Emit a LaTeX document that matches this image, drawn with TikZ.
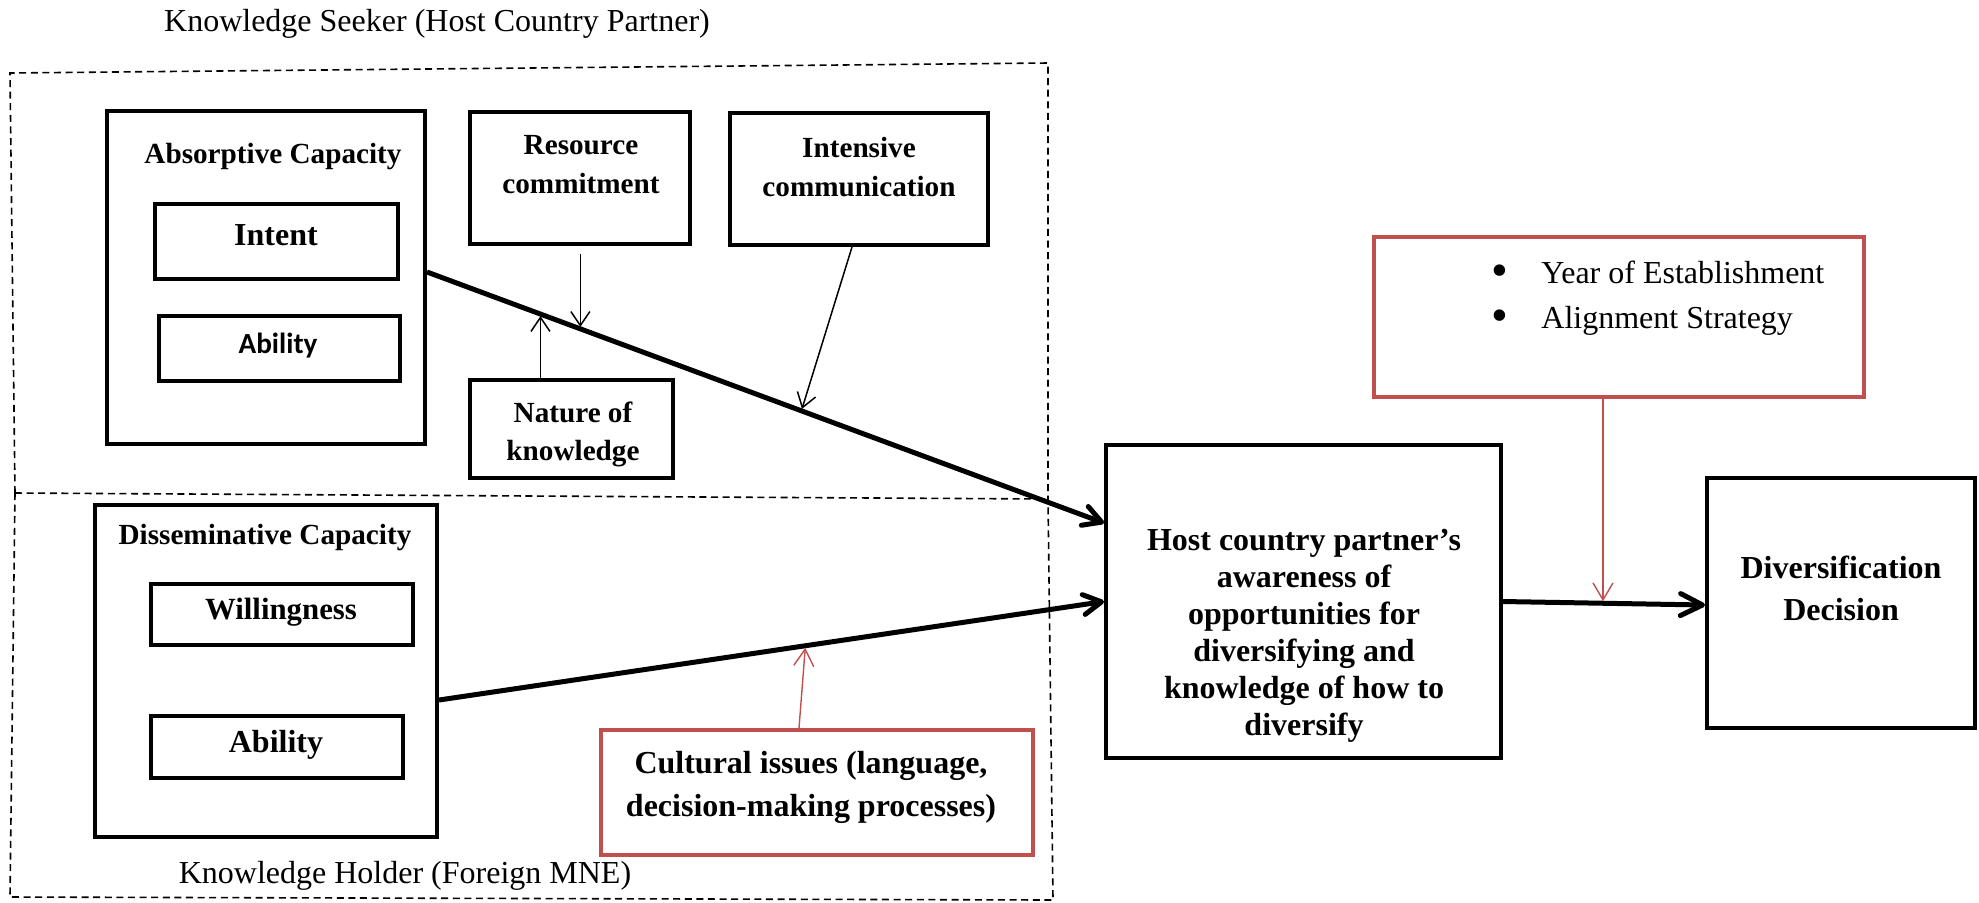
\documentclass[tikz,border=0pt]{standalone}
\usepackage{fontspec}
\setmainfont{Liberation Serif}
\newfontfamily\sansbold{Carlito}
\usetikzlibrary{arrows.meta,calc}
\definecolor{boxred}{RGB}{192,80,77}

\newcommand{\bigdot}{\makebox[5.5pt][c]{\raisebox{-1.5pt}{\fontsize{24}{24}\selectfont\textbullet}}\hspace{18pt}}

\tikzset{
  wh/.style 2 args={minimum width=#1*0.5pt,minimum height=#2*0.5pt},
  blk/.style={draw=black,line width=2pt,inner sep=0pt},
  inner/.style={draw=black,line width=1.8pt,inner sep=0pt},
  redbox/.style={draw=boxred,line width=2pt,inner sep=0pt},
  dashbox/.style={draw=black,line width=0.8pt,dash pattern=on 3.5pt off 2.3pt},
  hdr/.style={inner sep=0pt,align=center,font=\bfseries\fontsize{14.6}{19.5}\selectfont},
  txt/.style={inner sep=0pt,align=center,font=\bfseries\fontsize{16}{18.5}\selectfont},
  plain/.style={inner sep=0pt,font=\fontsize{16}{19}\selectfont},
  thickarrow/.style={line width=2.5pt,-{Straight Barb[length=9pt,width=10pt,round]}},
  thinarrow/.style={line width=0.75pt,shorten >=1pt,-{Straight Barb[length=7pt,width=9.5pt]}},
  redarrow/.style={draw=boxred,line width=0.7pt,shorten >=1pt,-{Straight Barb[length=8.5pt,width=10pt]}}
}

\begin{document}
\begin{tikzpicture}[x=0.5pt,y=-0.5pt]
\useasboundingbox (0,0) rectangle (1979,902);

% group frames
\draw[dashbox] (15,493) -- (10,73) -- (1048,63) -- (1048,499);
\draw[dashbox] (15,493) -- (1048,499);
\draw[dashbox] (15,493) -- (10,897) -- (1053,900) -- (1048,499);
\node[plain] (seekerlbl) at (437,24) {Knowledge Seeker (Host Country Partner)};
\node[plain] (holderlbl) at (405,876) {Knowledge Holder (Foreign MNE)};

% knowledge seeker side
\node[blk, wh={318}{333}] (absorp) at (266,277.5) {};
\node[hdr] (absorp-t) at (273,157) {Absorptive Capacity};
\node[inner, wh={243}{75}] (intent) at (276.5,241.5) {};
\node[txt] (intent-t) at (276,235) {Intent};
\node[inner, wh={241}{65}] (ability1) at (279.5,348.5) {};
\node[inner sep=0pt,font=\sansbold\bfseries\fontsize{14.6}{17}\selectfont] (ability1-t) at (278,346) {Ability};

\node[blk, wh={220}{132}] (resource) at (580,178) {};
\node[hdr] (resource-t) at (581,165) {Resource\\commitment};
\node[blk, wh={258}{132}] (intensive) at (859,179) {};
\node[hdr] (intensive-t) at (859,167) {Intensive\\communication};
\node[blk, wh={203}{98}] (nature) at (571.5,429) {};
\node[hdr, font=\bfseries\fontsize{14.6}{19}\selectfont] (nature-t) at (573,434) {Nature of\\knowledge};

% knowledge holder side
\node[blk, wh={342}{332}] (dissem) at (266,671) {};
\node[hdr] (dissem-t) at (265,538) {Disseminative Capacity};
\node[inner, wh={262}{61}] (willing) at (282,614.5) {};
\node[txt, font=\bfseries\fontsize{15.4}{18}\selectfont] (willing-t) at (281,612) {Willingness};
\node[inner, wh={252}{62}] (ability2) at (277,747) {};
\node[txt] (ability2-t) at (276,745) {Ability};

\node[redbox, wh={432}{125}] (cultural) at (817,792.5) {};
\node[txt, font=\bfseries\fontsize{16}{21.5}\selectfont] (cultural-t) at (811,787) {Cultural issues (language,\\decision-making processes)};

% outcome side
\node[blk, wh={395}{313}] (host) at (1303.5,601.5) {};
\node[txt] (host-t) at (1304,636) {Host country partner’s\\awareness of\\opportunities for\\diversifying and\\knowledge of how to\\diversify};
\node[blk, wh={268}{250}] (divers) at (1841,603) {};
\node[txt, font=\bfseries\fontsize{16}{21}\selectfont] (divers-t) at (1841,588) {Diversification\\Decision};

\node[redbox, wh={490}{160}] (year) at (1619,317) {};
\node[plain, align=left, anchor=west, font=\fontsize{16}{22.5}\selectfont] (year-t) at (1494,298)
  {\bigdot Year of Establishment\\\bigdot Alignment Strategy};

% main paths
\draw[thickarrow] ([yshift=2.75pt]absorp.east) -- ([yshift=39.25pt]host.west)
  coordinate[pos=0.1676] (nkTip) coordinate[pos=0.2265] (rcTip) coordinate[pos=0.553] (icTip);
\draw[thickarrow] ([yshift=-14.5pt]dissem.east) -- (host.west)
  coordinate[pos=0.551] (ciTip);
\draw[thickarrow, -{Straight Barb[length=11pt,width=11pt,round]}] (host.east) -- ([yshift=-1pt]divers.west)
  coordinate[pos=0.495] (ysTip);

% moderators
\draw[thinarrow, shorten <=4pt] (resource.south -| rcTip) -- (rcTip);
\draw[thinarrow] (nature.north -| nkTip) -- (nkTip);
\draw[thinarrow] ([xshift=-3.5pt]intensive.south) -- (icTip);
\draw[redarrow] ([xshift=-9pt]cultural.north) -- (ciTip);
\draw[redarrow] (year.south -| ysTip) -- (ysTip);
\end{tikzpicture}
\end{document}
